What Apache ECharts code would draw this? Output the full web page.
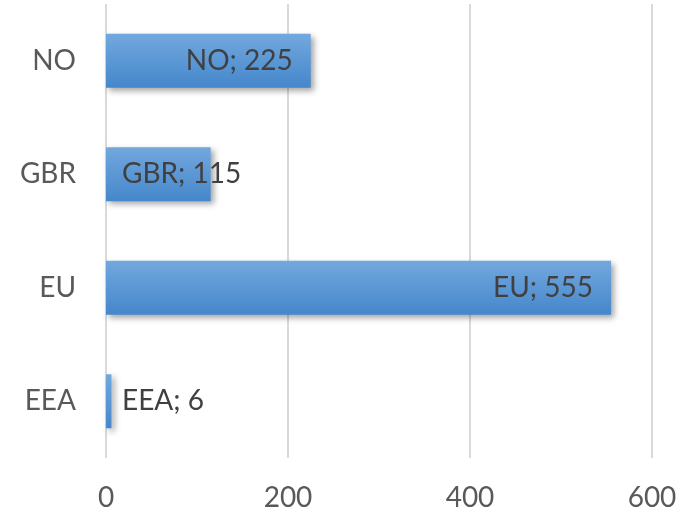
<!DOCTYPE html>
<html><head><meta charset="utf-8">
<script src="https://cdn.jsdelivr.net/npm/echarts@6/dist/echarts.min.js"></script>
<style>html,body{margin:0;padding:0;background:#fff}#c{width:684px;height:514px}</style>
</head><body><div id="c"></div>
<script>
const categories = ['EEA', 'EU', 'GBR', 'NO'];
const values = [6, 555, 115, 225];
const xTicks = [0, 200, 400, 600];
const labelInside = [false, true, false, true];

const FONT = 'Lato';
const chart = echarts.init(document.getElementById('c'), null, {renderer: 'canvas'});
const data = values.map((v, i) => ({
  value: v,
  label: labelInside[i]
    ? {position: 'insideRight', distance: 18}
    : {position: 'insideLeft', distance: 16}
}));
chart.setOption({
  animation: false,
  grid: {left: 106, right: 32, top: 4, bottom: 56, containLabel: false},
  xAxis: {
    type: 'value', min: 0, max: 600, interval: 200,
    axisLine: {show: false}, axisTick: {show: false},
    splitLine: {lineStyle: {color: '#d9d9d9', width: 2}},
    axisLabel: {color: '#595959', fontFamily: FONT, fontSize: 28, margin: 26,
      formatter: v => xTicks.includes(v) ? String(v) : ''}
  },
  yAxis: {
    type: 'category', data: categories,
    axisLine: {show: false}, axisTick: {show: false},
    axisLabel: {color: '#595959', fontFamily: FONT, fontSize: 28, margin: 30}
  },
  series: [{
    type: 'bar', data: data, barWidth: 54,
    itemStyle: {
      color: new echarts.graphic.LinearGradient(0, 0, 0, 1, [
        {offset: 0, color: '#72a8de'},
        {offset: 1, color: '#4587cb'}
      ]),
      shadowColor: 'rgba(0,0,0,0.35)', shadowBlur: 6, shadowOffsetX: 3, shadowOffsetY: 3
    },
    label: {
      show: true, color: '#404040', fontFamily: FONT, fontSize: 28,
      formatter: p => p.name + '; ' + p.value
    }
  }]
});
</script></body></html>
